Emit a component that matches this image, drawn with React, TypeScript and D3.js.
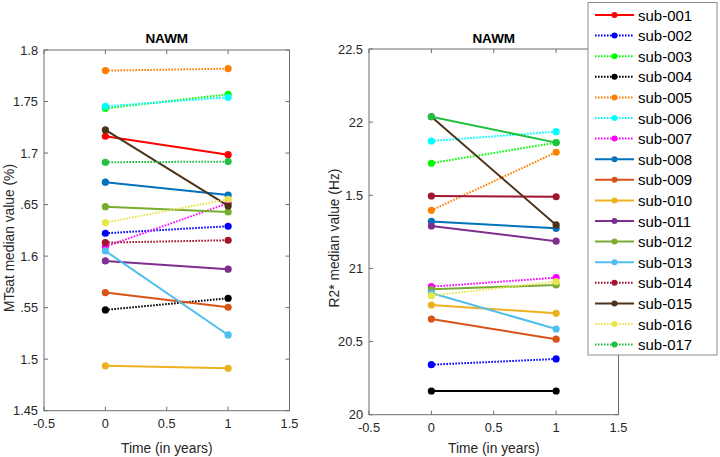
import React from 'react';
import * as d3 from 'd3';

const subjects = ['sub-001','sub-002','sub-003','sub-004','sub-005','sub-006','sub-007','sub-008','sub-009','sub-010','sub-011','sub-012','sub-013','sub-014','sub-015','sub-016','sub-017'];
const colors = ['#ff0000','#0000ff','#00ff00','#000000','#ff8000','#00ffff','#ff00ff','#0072bd','#d95319','#edb120','#7e2f8e','#77ac30','#4dbeee','#a2142f','#4d331a','#e6e64d','#22c040'];
const legendDotted = [false,true,true,true,true,true,true,false,false,false,false,false,false,true,false,true,true];
const rightDotted = [false,true,true,false,true,true,true,false,false,false,false,false,false,false,false,true,false];
const times = [0, 1];

const mtsatT0 = [1.7163,1.6222,1.7434,1.5478,1.7800,1.7454,1.6092,1.6717,1.5646,1.4935,1.5953,1.6480,1.6050,1.6131,1.7224,1.6325,1.6911];
const mtsatT1 = [1.6984,1.6290,1.7570,1.5591,1.7819,1.7541,1.6513,1.6593,1.5504,1.4912,1.5873,1.6429,1.5235,1.6154,1.6487,1.6552,1.6917];
// sub-001 is not visible in the R2* panel
const r2T0 = [NaN,20.342,21.719,20.162,21.397,21.871,20.875,21.321,20.654,20.750,21.290,20.857,20.832,21.495,22.037,20.814,22.037];
const r2T1 = [NaN,20.381,21.860,20.162,21.794,21.935,20.937,21.274,20.516,20.693,21.186,20.887,20.586,21.490,21.297,20.910,21.860];

const xTicks = [-0.5, 0, 0.5, 1, 1.5];
const xTickLabels = ['-0.5','0','0.5','1','1.5'];
const mtsatTicks = [1.45,1.5,1.55,1.6,1.65,1.7,1.75,1.8];
const mtsatTickLabels = ['1.45','1.5','.55','1.6','.65','1.7','1.75','1.8'];
const r2Ticks = [20,20.5,21,21.5,22,22.5];
const r2TickLabels = ['20','20.5','21','1.5','22','22.5'];

const FONT = 'Arial, "Liberation Sans", Helvetica, sans-serif';
const AXIS = '#6e6e6e';
const TXT = '#262626';

type PanelProps = {
  x0: number; x1: number; y0: number; y1: number;
  domain: [number, number];
  ticks: number[]; tickLabels: string[];
  t0: number[]; t1: number[];
  dotted: boolean[];
  ylabel: string; ylabelX: number; ylabelY: number;
};

function Panel(p: PanelProps) {
  const x = d3.scaleLinear().domain([-0.5, 1.5]).range([p.x0, p.x1]);
  const y = d3.scaleLinear().domain(p.domain).range([p.y1, p.y0]);
  const line = d3.line<[number, number]>().x(d => x(d[0])).y(d => y(d[1]));
  const tl = 4;
  return (
    <g>
      <rect x={p.x0} y={p.y0} width={p.x1 - p.x0} height={p.y1 - p.y0} fill="#fff" stroke={AXIS} strokeWidth={1} />
      {xTicks.map((t, i) => (
        <g key={'xt' + i}>
          <line x1={x(t)} x2={x(t)} y1={p.y1} y2={p.y1 - tl} stroke={AXIS} />
          <line x1={x(t)} x2={x(t)} y1={p.y0} y2={p.y0 + tl} stroke={AXIS} />
          <text x={x(t)} y={p.y1 + 17} textAnchor="middle" fontSize={12.8} fill={TXT} fontFamily={FONT}>{xTickLabels[i]}</text>
        </g>
      ))}
      {p.ticks.map((t, i) => (
        <g key={'yt' + i}>
          <line x1={p.x0} x2={p.x0 + tl} y1={y(t)} y2={y(t)} stroke={AXIS} />
          <line x1={p.x1} x2={p.x1 - tl} y1={y(t)} y2={y(t)} stroke={AXIS} />
          <text x={p.x0 - 6} y={y(t) + 4.5} textAnchor="end" fontSize={12.8} fill={TXT} fontFamily={FONT}>{p.tickLabels[i]}</text>
        </g>
      ))}
      <text x={(p.x0 + p.x1) / 2} y={43} textAnchor="middle" fontSize={13.5} fontWeight="bold" fill="#000" fontFamily={FONT}>NAWM</text>
      <text x={(p.x0 + p.x1) / 2} y={453} textAnchor="middle" fontSize={13.8} fill={TXT} fontFamily={FONT}>Time (in years)</text>
      <text transform={`translate(${p.ylabelX},${p.ylabelY}) rotate(-90)`} textAnchor="middle" fontSize={13.8} fill={TXT} fontFamily={FONT}>{p.ylabel}</text>
      {subjects.map((s, i) => {
        if (!Number.isFinite(p.t0[i]) || !Number.isFinite(p.t1[i])) return null;
        const pts: [number, number][] = [[times[0], p.t0[i]], [times[1], p.t1[i]]];
        return (
          <g key={s}>
            <path d={line(pts) || ''} fill="none" stroke={colors[i]} strokeWidth={2} strokeDasharray={p.dotted[i] ? '1.6 1.4' : undefined} />
            {pts.map((d, j) => (
              <circle key={j} cx={x(d[0])} cy={y(d[1])} r={3.6} fill={colors[i]} />
            ))}
          </g>
        );
      })}
    </g>
  );
}

export default function App() {
  const lx = 588, ly = 2.5, lw = 129, lh = 352.5;
  const step = 20.6;
  return (
    <svg width={720} height={457} style={{ display: 'block', position: 'absolute', left: 0, top: 0, background: '#fff' }}>
      <rect x={0} y={0} width={720} height={457} fill="#fff" />
      <Panel x0={44} x1={289.5} y0={50} y1={410.7} domain={[1.45, 1.8]}
        ticks={mtsatTicks} tickLabels={mtsatTickLabels} t0={mtsatT0} t1={mtsatT1}
        dotted={legendDotted}
        ylabel="MTsat median value (%)" ylabelX={14} ylabelY={238} />
      <Panel x0={369} x1={618.5} y0={49} y1={414.7} domain={[20, 22.5]}
        ticks={r2Ticks} tickLabels={r2TickLabels} t0={r2T0} t1={r2T1}
        dotted={rightDotted}
        ylabel="R2* median value (Hz)" ylabelX={339} ylabelY={238} />
      <rect x={lx} y={ly} width={lw} height={lh} fill="#fff" stroke="#8c8c8c" strokeWidth={1} />
      {subjects.map((s, i) => {
        const yy = 15 + i * step;
        return (
          <g key={'lg' + s}>
            <line x1={595} x2={634} y1={yy} y2={yy} stroke={colors[i]} strokeWidth={2} strokeDasharray={legendDotted[i] ? '1.6 1.4' : undefined} />
            <circle cx={614.5} cy={yy} r={3} fill={colors[i]} />
            <text x={638} y={yy + 5.5} fontSize={15} fill="#000" fontFamily={FONT}>{s}</text>
          </g>
        );
      })}
    </svg>
  );
}
